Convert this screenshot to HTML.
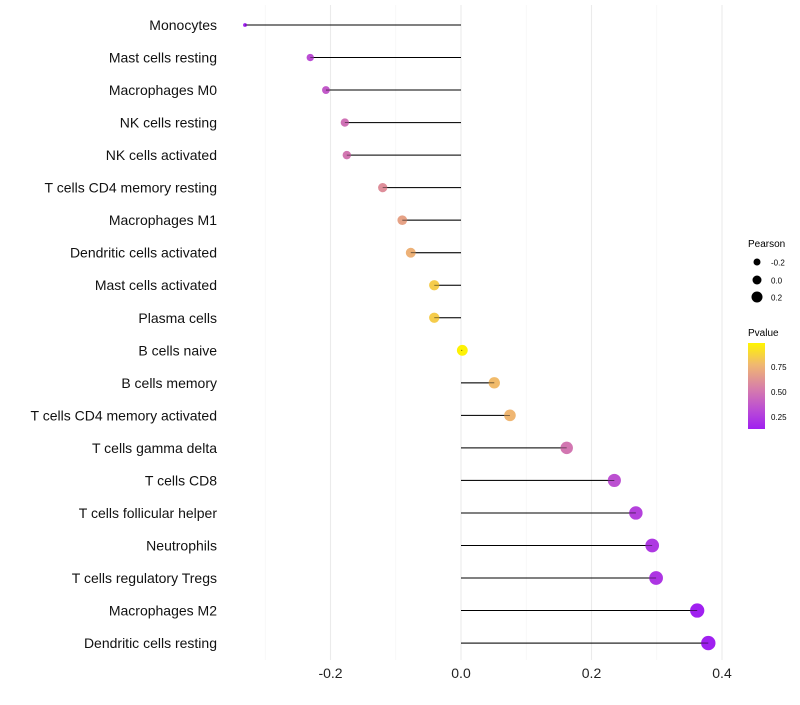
<!DOCTYPE html>
<html><head><meta charset="utf-8"><style>
body{margin:0;background:#fff;font-family:"Liberation Sans",sans-serif}
</style></head><body>
<svg id="chart" width="800" height="700" xmlns="http://www.w3.org/2000/svg" font-family="Liberation Sans, sans-serif">
<defs><linearGradient id="pg" x1="0" y1="1" x2="0" y2="0">
<stop offset="0" stop-color="#A020F0"/><stop offset="0.2" stop-color="#B848D8"/><stop offset="0.48" stop-color="#D880A8"/><stop offset="0.75" stop-color="#F0B870"/><stop offset="1" stop-color="#FFF500"/></linearGradient></defs>
<g id="grid"></g><g id="marks"></g><g id="labels"></g>
<g>
<text x="748" y="247" font-size="10">Pearson</text>
<circle cx="757" cy="262" r="3.5" fill="#000"/><text x="771" y="265.5" font-size="8">-0.2</text>
<circle cx="757" cy="280" r="4.5" fill="#000"/><text x="771" y="283.5" font-size="8">0.0</text>
<circle cx="757" cy="297" r="5.5" fill="#000"/><text x="771" y="300.5" font-size="8">0.2</text>
</g>
<g>
<text x="748" y="336" font-size="10">Pvalue</text>
<rect x="748" y="343" width="17" height="86" fill="url(#pg)"/>
<text x="771" y="370" font-size="8">0.75</text>
<text x="771" y="395" font-size="8">0.50</text>
<text x="771" y="420" font-size="8">0.25</text>
</g>
</svg>
<script>
const cells=["Monocytes","Mast cells resting","Macrophages M0","NK cells resting","NK cells activated","T cells CD4 memory resting","Macrophages M1","Dendritic cells activated","Mast cells activated","Plasma cells","B cells naive","B cells memory","T cells CD4 memory activated","T cells gamma delta","T cells CD8","T cells follicular helper","Neutrophils","T cells regulatory  Tregs","Macrophages M2","Dendritic cells resting"];
const pearson=[-0.331,-0.231,-0.207,-0.178,-0.175,-0.120,-0.090,-0.077,-0.041,-0.041,0.002,0.051,0.075,0.162,0.235,0.268,0.293,0.299,0.362,0.379];
const pvalue=[0.15,0.35,0.40,0.50,0.52,0.62,0.70,0.76,0.86,0.86,0.99,0.80,0.78,0.52,0.36,0.30,0.26,0.25,0.16,0.13];
const xticks=[-0.2,0.0,0.2,0.4];
const xminor=[-0.3,-0.1,0.1,0.3];
const NS="http://www.w3.org/2000/svg";
const X=v=>461+v*652.5;
const Y=i=>25+i*32.53;
const R=v=>1.5+5.7*Math.sqrt(Math.max(0,(v+0.335)/0.715));
function col(p){const t=Math.max(0,Math.min(1,(p-0.16)/0.84));
const st=[[0,[160,32,240]],[0.2,[184,72,216]],[0.48,[216,128,168]],[0.75,[240,184,112]],[1,[255,245,0]]];
for(let k=1;k<st.length;k++){if(t<=st[k][0]){const a=st[k-1],b=st[k],f=(t-a[0])/(b[0]-a[0]);return "rgb("+a[1].map((c,j)=>Math.round(c+(b[1][j]-c)*f)).join(",")+")";}}return "rgb(255,245,0)";}
function mk(tag,at,parent){const e=document.createElementNS(NS,tag);for(const k in at)e.setAttribute(k,at[k]);document.getElementById(parent).appendChild(e);return e;}
xminor.forEach(v=>{const l=mk("line",{x1:X(v),x2:X(v),y1:5,y2:660,stroke:"#f4f4f4","stroke-width":0.6},"grid");

});
xticks.forEach(v=>{const l=mk("line",{x1:X(v),x2:X(v),y1:5,y2:660,stroke:"#ebebeb","stroke-width":1.1},"grid");


const t=mk("text",{x:X(v),y:678,"font-size":14,"text-anchor":"middle",fill:"#222"},"labels");t.textContent=v.toFixed(1);

});
cells.forEach((c,i)=>{
const t=mk("text",{x:217,y:Y(i)+5,"font-size":14,"text-anchor":"end",fill:"#111"},"labels");t.textContent=c;


const l=mk("line",{x1:X(0),x2:X(pearson[i]),y1:Y(i),y2:Y(i),stroke:"#000","stroke-width":1},"marks");


const p=mk("circle",{cx:X(pearson[i]),cy:Y(i),r:R(pearson[i]),fill:col(pvalue[i])},"marks");


const l2=mk("line",{x1:X(0),x2:X(pearson[i]),y1:Y(i),y2:Y(i),stroke:"#000","stroke-width":0.8,"stroke-opacity":0.6},"marks");


});
</script>
</body></html>
